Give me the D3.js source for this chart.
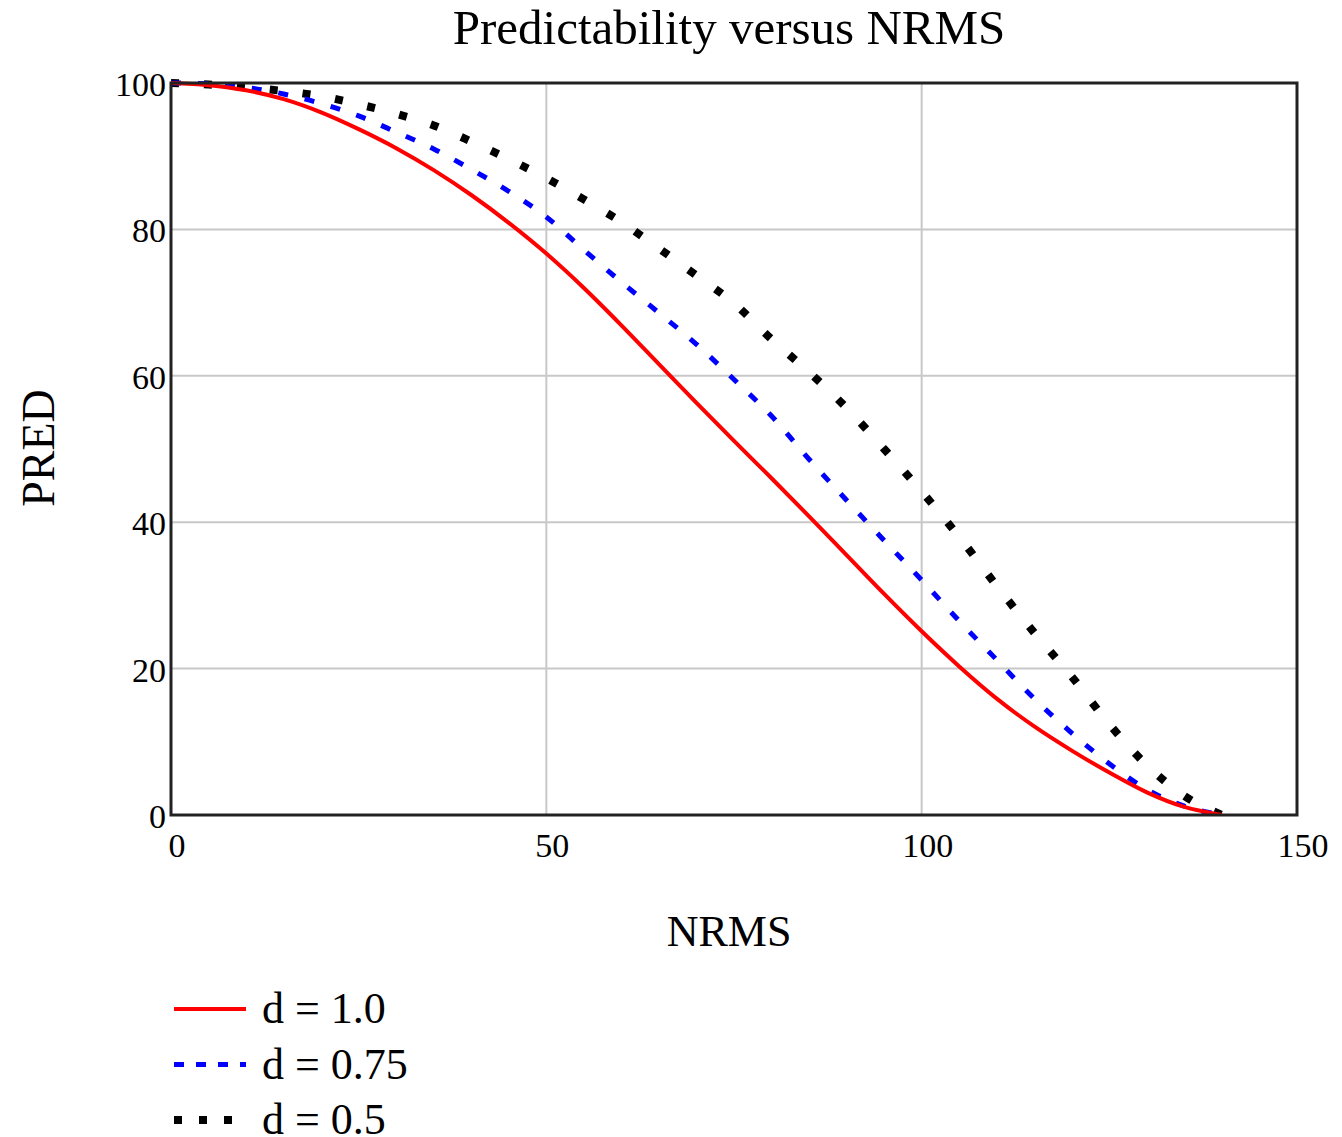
<!DOCTYPE html>
<html>
<head>
<meta charset="utf-8">
<script src="https://cdn.jsdelivr.net/npm/d3@7"></script>
<style>
  body { margin: 0; background: #fff; }
  text { font-family: "Liberation Serif", "DejaVu Serif", serif; fill: #000; }
</style>
</head>
<body>
<svg id="chart" width="1342" height="1137"></svg>
<script>
//--数据--
var nrms = [0, 5, 10, 15, 20, 25, 30, 35, 40, 45, 50, 55, 60, 65, 70,
            75, 80, 85, 90, 95, 100, 105, 110, 115, 120, 125, 130, 135, 140];
var predD10 = [100, 99.7, 99.0, 97.8, 96.0, 93.7, 91.1, 88.1, 84.7, 80.9, 76.7, 72.0, 66.9, 61.6, 56.3,
               51.1, 46.0, 40.8, 35.5, 30.2, 25.1, 20.3, 15.9, 12.1, 8.8, 5.8, 3.1, 1.1, 0];
var predD075 = [100, 99.9, 99.4, 98.5, 97.2, 95.5, 93.3, 91.0, 88.2, 85.2, 81.7, 77.2, 72.8, 68.6, 64.3,
                59.5, 54.5, 48.6, 43.0, 37.5, 32.1, 26.5, 21.2, 15.9, 11.2, 7.0, 3.5, 1.2, 0];
var predD05 = [100, 99.8, 99.4, 98.9, 98.2, 97.1, 95.8, 94.2, 92.0, 89.6, 87.0, 84.1, 81.0, 77.4, 73.7,
               69.9, 65.0, 60.5, 55.6, 50.0, 44.2, 38.0, 31.3, 24.9, 18.9, 12.4, 6.8, 2.6, 0];
var xTicks = [0, 50, 100, 150];
var yTicks = [0, 20, 40, 60, 80, 100];
var seriesNames = ["d = 1.0", "d = 0.75", "d = 0.5"];

//--样式--
var styles = [
    { color: "#ff0000", width: 4, dash: null, legendDash: null },
    { color: "#0000ff", width: 5, dash: "10,17", legendDash: "10,12" },
    { color: "#000000", width: 8, dash: "8,25", legendDash: "8,17" }
];
var series = [predD10, predD075, predD05].map(function (vals, i) {
    return { name: seriesNames[i], style: styles[i],
             points: vals.map(function (v, j) { return [nrms[j], v]; }) };
});

var svg = d3.select("#chart");
var mLeft = 171, mRight = 1297, mTop = 83, mBottom = 815;

var x = d3.scaleLinear().domain([0, 150]).range([mLeft, mRight]);
var y = d3.scaleLinear().domain([0, 100]).range([mBottom, mTop]);

//网格
svg.append("g").selectAll("line").data(xTicks.slice(1, -1)).join("line")
    .attr("x1", d => x(d)).attr("x2", d => x(d))
    .attr("y1", mTop).attr("y2", mBottom)
    .attr("stroke", "#c8c8c8").attr("stroke-width", 2);
svg.append("g").selectAll("line").data(yTicks.slice(1, -1)).join("line")
    .attr("y1", d => y(d)).attr("y2", d => y(d))
    .attr("x1", mLeft).attr("x2", mRight)
    .attr("stroke", "#c8c8c8").attr("stroke-width", 2);

//曲线
var line = d3.line()
    .x(d => x(d[0]))
    .y(d => y(d[1]))
    .curve(d3.curveMonotoneX);
svg.append("clipPath").attr("id", "clip")
    .append("rect").attr("x", mLeft).attr("y", mTop - 6)
    .attr("width", mRight - mLeft + 6).attr("height", mBottom - mTop + 6);
svg.append("g").attr("clip-path", "url(#clip)")
    .selectAll("path").data(series.slice().reverse()).join("path")
    .attr("d", d => line(d.points))
    .attr("fill", "none")
    .attr("stroke", d => d.style.color)
    .attr("stroke-width", d => d.style.width)
    .attr("stroke-dasharray", d => d.style.dash);

//边框
svg.append("rect")
    .attr("x", mLeft).attr("y", mTop)
    .attr("width", mRight - mLeft).attr("height", mBottom - mTop)
    .attr("fill", "none").attr("stroke", "#222").attr("stroke-width", 3);

//刻度标签
svg.append("g").selectAll("text").data(xTicks).join("text")
    .attr("x", d => x(d) + 6).attr("y", 857)
    .attr("text-anchor", "middle").attr("font-size", 34)
    .text(d => d);
svg.append("g").selectAll("text").data(yTicks).join("text")
    .attr("x", 166).attr("y", d => y(d) + 13)
    .attr("text-anchor", "end").attr("font-size", 34)
    .text(d => d);

//标题与轴标签
svg.append("text").attr("x", 729).attr("y", 44)
    .attr("text-anchor", "middle").attr("font-size", 49)
    .text("Predictability versus NRMS");
svg.append("text").attr("x", 729).attr("y", 946)
    .attr("text-anchor", "middle").attr("font-size", 44)
    .text("NRMS");
svg.append("text")
    .attr("transform", "translate(54,448) rotate(-90)")
    .attr("text-anchor", "middle").attr("font-size", 46)
    .text("PRED");

//图例
var legend = svg.append("g").selectAll("g").data(series).join("g")
    .attr("transform", (d, i) => "translate(0," + (1009 + i * 55.5) + ")");
legend.append("line")
    .attr("x1", 174).attr("x2", 246)
    .attr("stroke", d => d.style.color)
    .attr("stroke-width", d => d.style.width)
    .attr("stroke-dasharray", d => d.style.legendDash);
legend.append("text")
    .attr("x", 262).attr("y", 14)
    .attr("font-size", 44)
    .text(d => d.name);
</script>
</body>
</html>
